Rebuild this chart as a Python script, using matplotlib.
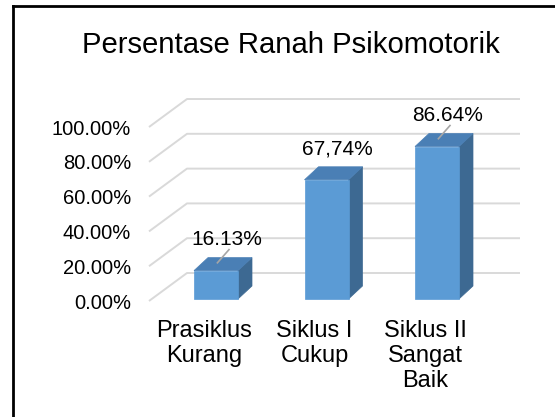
import matplotlib

matplotlib.use("Agg")
import matplotlib.pyplot as plt
from matplotlib.lines import Line2D
from matplotlib.patches import Polygon

plt.rcParams["font.family"] = ["Liberation Sans", "DejaVu Sans"]

title = "Persentase Ranah Psikomotorik"
categories = ["Prasiklus\nKurang", "Siklus I\nCukup", "Siklus II\nSangat\nBaik"]
values = [16.13, 67.74, 86.64]
value_labels = ["16.13%", "67,74%", "86.64%"]
grid_values = [0, 20, 40, 60, 80, 100]
tick_labels = ["0.00%", "20.00%", "40.00%", "60.00%", "80.00%", "100.00%"]

W, H, DPI = 555, 417, 100
# pixel -> data mapping: x in category units, y in percent
X0, XS = 216.0, 110.5   # px of first bar centre, px per category
Y0, YS = 299.0, 1.76    # px (from top) of bar base, px per percent


def px_x(p):
    return (p - X0) / XS


def px_y(p):
    return (Y0 - p) / YS


BAR_W = 44 / XS
DEPTH_X, DEPTH_Y = 14 / XS, 13 / YS
WALL_BACK = (Y0 - 273) / YS   # back wall baseline offset (percent units)
FLOOR_X0, FLOOR_X1 = px_x(149), px_x(187)
FLOOR_DY = 28 / YS
GRID_END = px_x(520)

FRONT = "#5b9bd5"
TOP = "#4a7fb5"
SIDE = "#3d6992"
GRID = "#d9d9d9"

fig = plt.figure(figsize=(W / DPI, H / DPI), dpi=DPI)
ax = fig.add_axes([0, 0, 1, 1])
ax.set_xlim(px_x(0), px_x(W))
ax.set_ylim(px_y(H), px_y(0))
ax.axis("off")

# walls / gridlines
for g, lab in zip(grid_values, tick_labels):
    yb = g * 173 / 175 + WALL_BACK
    ax.plot([FLOOR_X0, FLOOR_X1, GRID_END], [yb - FLOOR_DY, yb, yb],
            color=GRID, lw=1.4, solid_capstyle="butt", zorder=1)
    ax.text(px_x(131), yb - FLOOR_DY - 1.2, lab, ha="right", va="center",
            fontsize=14.5, color="#000000")

# 3d bars
for i, (v, lab) in enumerate(zip(values, value_labels)):
    x0, x1 = i - BAR_W / 2, i + BAR_W / 2
    front = [(x0, 0), (x1, 0), (x1, v), (x0, v)]
    top = [(x0, v), (x1, v), (x1 + DEPTH_X, v + DEPTH_Y), (x0 + DEPTH_X, v + DEPTH_Y)]
    side = [(x1, 0), (x1 + DEPTH_X, DEPTH_Y), (x1 + DEPTH_X, v + DEPTH_Y), (x1, v)]
    for poly, c in ((side, SIDE), (top, TOP), (front, FRONT)):
        ax.add_patch(Polygon(poly, closed=True, facecolor=c, edgecolor=c, lw=0.5, zorder=3))

    lx = i + 11 / XS
    ly = v + 31 / YS
    ax.text(lx, ly, lab, ha="center", va="center", fontsize=15, zorder=5)
    if i != 1:
        ax.plot([i + DEPTH_X * 0.1, lx + 2 / XS], [v + DEPTH_Y * 0.6, ly - 10 / YS],
                color="#a6a6a6", lw=1.2, zorder=4)

    ax.text(i - 12 / XS, px_y(320), categories[i], ha="center", va="top",
            fontsize=17, linespacing=1.17)

fig.text(290.5 / W, 1 - 45 / H, title, ha="center", va="center", fontsize=21.1)

# chart frame (runs off the right and bottom edges)
fig.add_artist(Line2D([12.5 / W, 12.5 / W], [1 - 6.2 / H, -0.05], color="black",
                      lw=2.0, transform=fig.transFigure))
fig.add_artist(Line2D([12.5 / W, 1.05], [1 - 6.2 / H, 1 - 6.2 / H], color="black",
                      lw=2.0, transform=fig.transFigure))

fig.savefig("out.png", dpi=DPI)
